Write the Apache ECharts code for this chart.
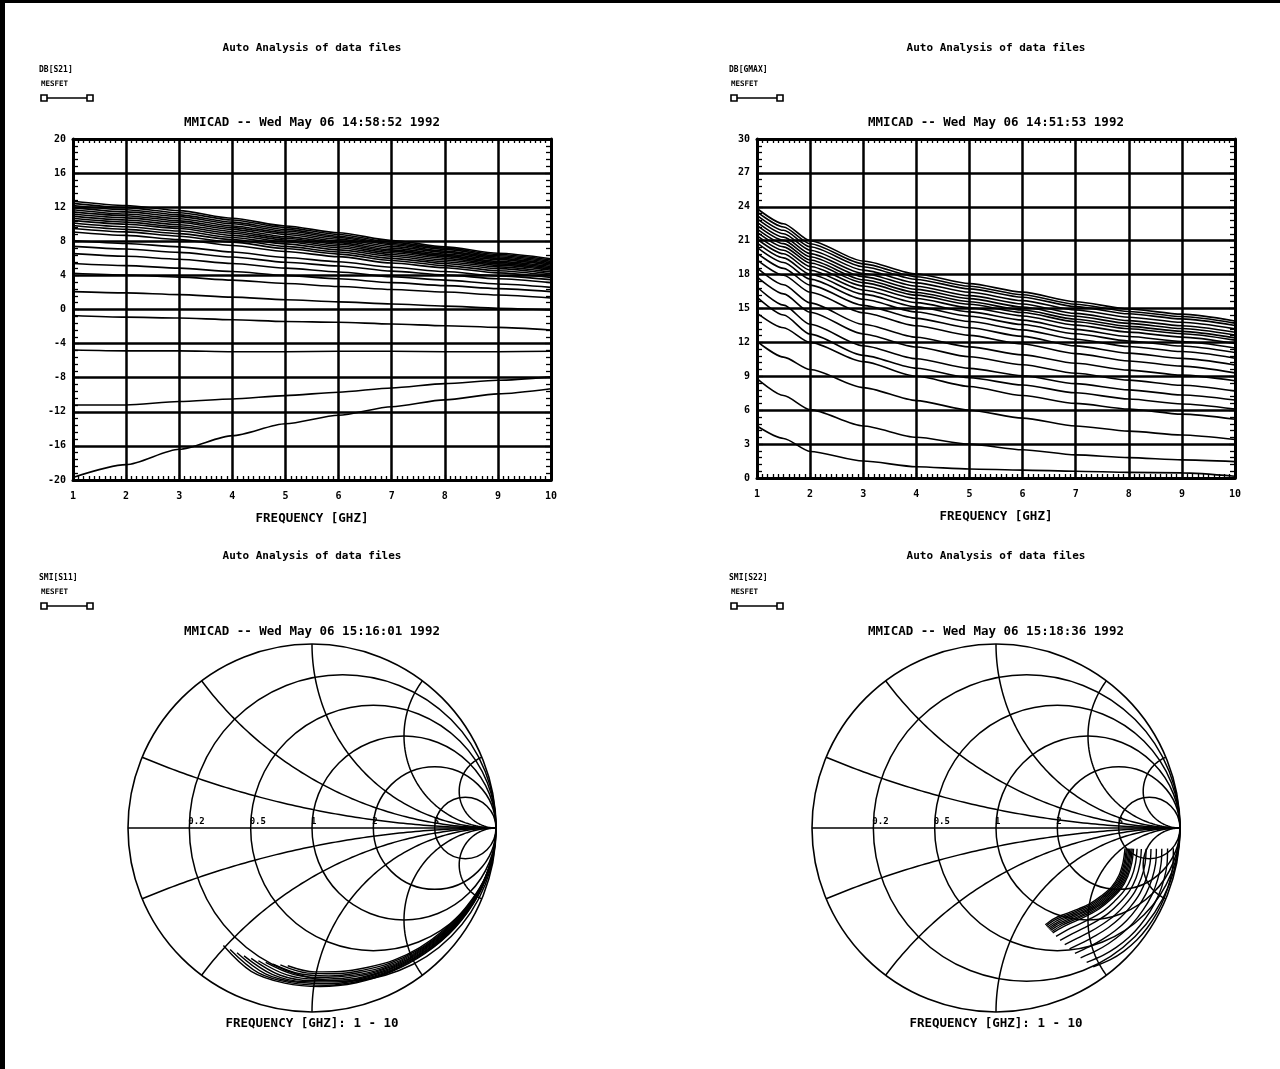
<!DOCTYPE html>
<html>
<head>
<meta charset="utf-8">
<title>MMICAD Auto Analysis</title>
<script src="https://cdn.jsdelivr.net/npm/echarts@6.0.0/dist/echarts.min.js"></script>
<style>
html,body{margin:0;padding:0;background:#ffffff;}
#chart{width:1280px;height:1069px;}
</style>
</head>
<body>
<div id="chart"></div>
<script>
// ---------------- data ----------------
const freqTicks = [1,2,3,4,5,6,7,8,9,10];
const s21Ticks  = [-20,-16,-12,-8,-4,0,4,8,12,16,20];
const gmaxTicks = [0,3,6,9,12,15,18,21,24,27,30];

const freqS21 = [1,2,3,4,5,6,7,8,9,10];
const s21Curves = [
  [12.7,12.2,11.6,10.7,9.8,9.0,8.1,7.35,6.6,5.95],
  [12.45,11.95,11.35,10.5,9.6,8.8,7.9,7.2,6.45,5.8],
  [12.2,11.7,11.1,10.25,9.4,8.6,7.75,7.05,6.3,5.65],
  [11.95,11.45,10.9,10.05,9.2,8.45,7.6,6.85,6.15,5.5],
  [11.7,11.2,10.65,9.8,9.0,8.25,7.4,6.7,6.0,5.35],
  [11.45,11.0,10.4,9.6,8.8,8.05,7.2,6.5,5.85,5.2],
  [11.2,10.75,10.2,9.4,8.55,7.85,7.0,6.35,5.65,5.05],
  [10.95,10.5,9.95,9.15,8.35,7.65,6.85,6.2,5.5,4.9],
  [10.7,10.25,9.7,8.95,8.15,7.45,6.65,6.0,5.35,4.75],
  [10.45,10.0,9.5,8.7,7.95,7.25,6.45,5.8,5.2,4.6],
  [10.15,9.7,9.2,8.45,7.7,7.0,6.25,5.6,5.0,4.4],
  [9.85,9.4,8.9,8.2,7.4,6.75,6.0,5.4,4.8,4.2],
  [9.5,9.1,8.6,7.9,7.15,6.5,5.75,5.15,4.55,4.0],
  [9.1,8.7,8.2,7.5,6.8,6.2,5.45,4.9,4.3,3.75],
  [8.1,7.75,7.35,6.75,6.1,5.6,4.95,4.45,3.95,3.5],
  [7.4,7.1,6.7,6.15,5.55,5.1,4.5,4.05,3.6,3.15],
  [6.55,6.25,5.9,5.4,4.85,4.4,3.85,3.45,3.0,2.6],
  [5.4,5.15,4.85,4.45,4.0,3.6,3.15,2.8,2.45,2.1],
  [4.25,4.05,3.8,3.45,3.05,2.7,2.35,2.05,1.7,1.35],
  [2.1,1.95,1.75,1.45,1.15,0.9,0.65,0.4,0.15,-0.05],
  [-0.7,-0.9,-1.0,-1.2,-1.4,-1.5,-1.7,-1.9,-2.1,-2.4],
  [-4.75,-4.85,-4.85,-4.95,-4.95,-4.9,-4.9,-4.95,-4.95,-4.9],
  [-11.2,-11.2,-10.8,-10.5,-10.1,-9.7,-9.2,-8.7,-8.3,-7.9],
  [-19.7,-18.2,-16.4,-14.8,-13.4,-12.4,-11.4,-10.6,-9.9,-9.3]
];

const freqGmax = [1,1.5,2,3,4,5,6,7,8,9,10];
const gmaxCurves = [
  [23.85,22.5,21.0,19.2,18.05,17.2,16.45,15.6,14.95,14.5,13.9],
  [23.55,22.21,20.73,18.95,17.81,16.97,16.22,15.38,14.74,14.29,13.7],
  [23.25,21.92,20.46,18.7,17.57,16.74,16.0,15.17,14.53,14.08,13.5],
  [22.95,21.62,20.16,18.4,17.27,16.44,15.7,14.87,14.23,13.78,13.2],
  [22.65,21.32,19.86,18.1,16.97,16.14,15.4,14.57,13.93,13.48,12.9],
  [22.35,21.03,19.58,17.82,16.69,15.87,15.13,14.31,13.68,13.23,12.65],
  [22.05,20.74,19.29,17.54,16.42,15.6,14.87,14.05,13.42,12.98,12.4],
  [21.75,20.45,19.02,17.29,16.18,15.37,14.64,13.83,13.21,12.77,12.2],
  [21.45,20.15,18.72,16.99,15.88,15.07,14.34,13.53,12.91,12.47,11.9],
  [21.15,19.84,18.39,16.64,15.52,14.7,13.97,13.15,12.52,12.08,11.5],
  [20.8,19.48,18.03,16.27,15.14,14.32,13.58,12.76,12.13,11.68,11.1],
  [20.4,19.07,17.6,15.82,14.69,13.85,13.11,12.28,11.64,11.19,10.6],
  [19.9,18.55,17.07,15.28,14.13,13.29,12.53,11.69,11.05,10.59,10.0],
  [19.3,17.94,16.44,14.63,13.47,12.62,11.86,11.01,10.36,9.9,9.3],
  [18.6,17.1,15.5,13.6,12.45,11.6,10.9,10.15,9.55,9.1,8.6],
  [17.8,16.29,14.67,12.75,11.59,10.73,10.02,9.27,8.66,8.21,7.7],
  [16.9,15.3,13.6,11.7,10.55,9.7,9.05,8.35,7.8,7.35,6.9],
  [16.0,14.42,12.73,10.85,9.71,8.87,8.23,7.54,6.99,6.55,6.1],
  [14.6,13.3,12.0,10.3,9.0,8.1,7.3,6.6,6.1,5.65,5.2],
  [12.1,10.7,9.6,8.0,6.85,6.0,5.3,4.6,4.15,3.8,3.4],
  [8.8,7.3,6.05,4.6,3.6,3.0,2.5,2.05,1.8,1.6,1.45],
  [4.6,3.5,2.35,1.5,1.0,0.8,0.7,0.6,0.5,0.45,0.15]
];

// Smith chart data: magnitude and angle (deg) at 1..10 GHz
const s11Mag = [
  [0.995,0.975,0.948,0.918,0.893,0.875,0.863,0.856,0.846,0.800],
  [0.995,0.975,0.947,0.917,0.891,0.872,0.858,0.849,0.839,0.796],
  [0.995,0.975,0.946,0.915,0.889,0.868,0.852,0.842,0.832,0.791],
  [0.995,0.975,0.945,0.914,0.887,0.865,0.847,0.836,0.825,0.787],
  [0.995,0.975,0.944,0.912,0.885,0.862,0.842,0.829,0.818,0.782],
  [0.995,0.975,0.944,0.911,0.883,0.858,0.836,0.822,0.810,0.778],
  [0.995,0.975,0.943,0.909,0.881,0.855,0.831,0.815,0.803,0.773],
  [0.995,0.975,0.942,0.908,0.879,0.852,0.826,0.809,0.796,0.769],
  [0.995,0.975,0.941,0.906,0.877,0.848,0.820,0.802,0.789,0.764],
  [0.995,0.975,0.940,0.905,0.875,0.845,0.815,0.795,0.782,0.760]
];
const s11Ang = [
  [-10,-22,-35,-48,-61,-74,-87,-100,-113,-127],
  [-9.8,-21.5,-34.2,-46.8,-59.5,-72.2,-84.9,-97.6,-110.3,-124],
  [-9.5,-21,-33.4,-45.7,-58.1,-70.5,-82.9,-95.3,-107.7,-121],
  [-9.3,-20.4,-32.5,-44.6,-56.7,-68.7,-80.8,-92.9,-105,-118],
  [-9.1,-19.9,-31.7,-43.5,-55.3,-67,-78.8,-90.6,-102.4,-115],
  [-8.8,-19.4,-30.9,-42.3,-53.8,-65.3,-76.7,-88.2,-99.7,-112],
  [-8.6,-18.9,-30,-41.2,-52.3,-63.5,-74.6,-85.8,-97,-109],
  [-8.4,-18.4,-29.2,-40.1,-50.9,-61.8,-72.6,-83.5,-94.3,-106],
  [-8.1,-17.8,-28.4,-38.9,-49.5,-60,-70.6,-81.1,-91.6,-103],
  [-7.9,-17.3,-27.5,-37.8,-48,-58.2,-68.5,-78.7,-88.9,-100]
];
const s22Mag = [
  [0.710,0.715,0.716,0.705,0.680,0.655,0.625,0.600,0.585,0.590],
  [0.717,0.722,0.723,0.712,0.688,0.663,0.634,0.609,0.594,0.598],
  [0.723,0.728,0.730,0.719,0.695,0.672,0.643,0.618,0.603,0.607],
  [0.730,0.735,0.736,0.726,0.703,0.680,0.652,0.627,0.612,0.615],
  [0.736,0.742,0.743,0.734,0.711,0.688,0.660,0.637,0.621,0.623],
  [0.743,0.748,0.750,0.741,0.719,0.696,0.669,0.646,0.630,0.631],
  [0.749,0.755,0.757,0.748,0.726,0.705,0.678,0.655,0.639,0.640],
  [0.756,0.762,0.763,0.755,0.734,0.713,0.687,0.664,0.649,0.648],
  [0.775,0.782,0.784,0.776,0.757,0.738,0.713,0.691,0.676,0.673],
  [0.798,0.806,0.808,0.802,0.785,0.767,0.745,0.724,0.708,0.703],
  [0.824,0.833,0.835,0.830,0.816,0.800,0.780,0.761,0.745,0.736],
  [0.850,0.859,0.862,0.859,0.847,0.833,0.816,0.797,0.781,0.769],
  [0.879,0.889,0.892,0.890,0.881,0.870,0.855,0.837,0.821,0.805],
  [0.908,0.918,0.922,0.922,0.915,0.906,0.893,0.877,0.861,0.842],
  [0.939,0.950,0.955,0.956,0.952,0.945,0.936,0.921,0.904,0.881],
  [0.970,0.982,0.987,0.990,0.989,0.985,0.978,0.965,0.948,0.921]
];
const s22Ang = [
  [-9,-15,-21,-27,-33,-39,-45,-51,-57,-63],
  [-8.9,-14.9,-20.9,-26.9,-32.9,-38.9,-44.8,-50.8,-56.8,-62.8],
  [-8.9,-14.8,-20.8,-26.8,-32.8,-38.7,-44.7,-50.7,-56.6,-62.6],
  [-8.8,-14.7,-20.7,-26.6,-32.6,-38.6,-44.5,-50.5,-56.4,-62.4],
  [-8.8,-14.7,-20.6,-26.5,-32.5,-38.5,-44.4,-50.3,-56.2,-62.2],
  [-8.7,-14.6,-20.5,-26.4,-32.4,-38.3,-44.2,-50.1,-56,-62],
  [-8.6,-14.5,-20.3,-26.3,-32.3,-38.2,-44.0,-49.9,-55.8,-61.8],
  [-8.6,-14.4,-20.2,-26.1,-32.1,-38.0,-43.9,-49.8,-55.6,-61.6],
  [-8.4,-14.1,-19.9,-25.8,-31.8,-37.6,-43.4,-49.3,-55,-61],
  [-8.2,-13.8,-19.5,-25.3,-31.3,-37.1,-42.8,-48.6,-54.3,-60.3],
  [-7.9,-13.5,-19.1,-24.8,-30.8,-36.6,-42.1,-47.9,-53.5,-59.5],
  [-7.7,-13.1,-18.6,-24.3,-30.3,-36.0,-41.5,-47.2,-52.7,-58.7],
  [-7.4,-12.7,-18.1,-23.8,-29.8,-35.4,-40.8,-46.5,-51.8,-57.8],
  [-7.1,-12.3,-17.7,-23.2,-29.2,-34.8,-40.1,-45.7,-50.9,-56.9],
  [-6.8,-11.9,-17.1,-22.6,-28.6,-34.2,-39.3,-44.8,-50,-56],
  [-6.5,-11.5,-16.6,-22,-28,-33.5,-38.5,-44,-49,-55]
];

const smithR = [0.2,0.5,1,2,5];
const smithX = [0.2,0.5,1,2,5];
const smithLabels = ['0.2','0.5','1','2','5'];

const pageTitle = 'Auto Analysis of data files';
const plotLabels = ['DB[S21]','DB[GMAX]','SMI[S11]','SMI[S22]'];
const deviceName = 'MESFET';
const stampTitles = [
  'MMICAD -- Wed May 06 14:58:52 1992',
  'MMICAD -- Wed May 06 14:51:53 1992',
  'MMICAD -- Wed May 06 15:16:01 1992',
  'MMICAD -- Wed May 06 15:18:36 1992'
];
const freqAxisName = 'FREQUENCY [GHZ]';
const smithFreqNote = 'FREQUENCY [GHZ]: 1 - 10';

// ---------------- chart ----------------
const FONT = '"DejaVu Sans Mono", "Liberation Mono", monospace';
const BLACK = '#000000';
const chart = echarts.init(document.getElementById('chart'), null, {renderer: 'canvas'});

function xAx(gi, pos, main) {
  return {
    gridIndex: gi, type: 'value', position: pos,
    min: freqTicks[0], max: freqTicks[freqTicks.length - 1], interval: freqTicks[1] - freqTicks[0],
    axisLine: {show: true, onZero: false, lineStyle: {color: BLACK, width: 3}},
    axisTick: {show: true, inside: true, length: 5, lineStyle: {color: BLACK, width: 1.3}},
    minorTick: {show: true, splitNumber: 10, length: 4, lineStyle: {color: BLACK, width: 1.3}},
    splitLine: {show: main, lineStyle: {color: BLACK, width: 2.5}},
    axisLabel: {show: main, margin: 11, fontSize: 10, fontWeight: 'bold', fontFamily: FONT, color: BLACK},
    name: main ? freqAxisName : '', nameLocation: 'middle', nameGap: 32,
    nameTextStyle: {fontSize: 12.5, fontWeight: 'bold', fontFamily: FONT, color: BLACK}
  };
}
function yAx(gi, pos, main, ticks) {
  return {
    gridIndex: gi, type: 'value', position: pos,
    min: ticks[0], max: ticks[ticks.length - 1], interval: ticks[1] - ticks[0],
    axisLine: {show: true, onZero: false, lineStyle: {color: BLACK, width: 3}},
    axisTick: {show: true, inside: true, length: 6, lineStyle: {color: BLACK, width: 1.3}},
    minorTick: {show: true, splitNumber: 5, length: 5, lineStyle: {color: BLACK, width: 1.3}},
    splitLine: {show: main, lineStyle: {color: BLACK, width: 2.5}},
    axisLabel: {show: main, margin: 7, fontSize: 10, fontWeight: 'bold', fontFamily: FONT, color: BLACK}
  };
}

const series = [];
s21Curves.forEach(c => series.push({
  type: 'line', xAxisIndex: 0, yAxisIndex: 0, data: freqS21.map((f, i) => [f, c[i]]),
  symbol: 'none', smooth: 0.25, smoothMonotone: 'x', silent: true,
  lineStyle: {color: BLACK, width: 1.6}
}));
gmaxCurves.forEach(c => series.push({
  type: 'line', xAxisIndex: 2, yAxisIndex: 2, data: freqGmax.map((f, i) => [f, c[i]]),
  symbol: 'none', smooth: 0.25, smoothMonotone: 'x', silent: true,
  lineStyle: {color: BLACK, width: 1.6}
}));
const s11First = series.length;
s11Mag.forEach((m, k) => series.push({
  type: 'line', coordinateSystem: 'polar', polarIndex: 0,
  data: m.map((v, i) => [v, s11Ang[k][i]]),
  symbol: 'none', smooth: 0.35, silent: true, lineStyle: {color: BLACK, width: 1.4}
}));
const s22First = series.length;
s22Mag.forEach((m, k) => series.push({
  type: 'line', coordinateSystem: 'polar', polarIndex: 1,
  data: m.map((v, i) => [v, s22Ang[k][i]]),
  symbol: 'none', smooth: 0.35, silent: true, lineStyle: {color: BLACK, width: 1.4}
}));

function angleAx(pi) {
  return {
    polarIndex: pi, type: 'value', min: -180, max: 180, startAngle: 180, clockwise: false,
    axisLine: {show: true, lineStyle: {color: BLACK, width: 1.6}},
    axisTick: {show: false}, axisLabel: {show: false}, splitLine: {show: false}, splitArea: {show: false}
  };
}
function radiusAx(pi) {
  return {
    polarIndex: pi, type: 'value', min: 0, max: 1,
    axisLine: {show: false}, axisTick: {show: false}, axisLabel: {show: false}, splitLine: {show: false}
  };
}

chart.setOption({
  animation: false,
  backgroundColor: '#ffffff',
  textStyle: {fontFamily: FONT},
  grid: [
    {left: 73, top: 139, width: 478, height: 341, show: false, containLabel: false, outerBoundsMode: 'none'},
    {left: 757, top: 139, width: 478, height: 339, show: false, containLabel: false, outerBoundsMode: 'none'}
  ],
  xAxis: [xAx(0, 'bottom', true), xAx(0, 'top', false), xAx(1, 'bottom', true), xAx(1, 'top', false)],
  yAxis: [yAx(0, 'left', true, s21Ticks), yAx(0, 'right', false, s21Ticks),
          yAx(1, 'left', true, gmaxTicks), yAx(1, 'right', false, gmaxTicks)],
  polar: [{center: [312, 828], radius: 184}, {center: [996, 828], radius: 184}],
  angleAxis: [angleAx(0), angleAx(1)],
  radiusAxis: [radiusAx(0), radiusAx(1)],
  series: series
});

// ---------------- decorations ----------------
const GRID_W = 1.5;
function txt(text, x, y, size, align, valign) {
  return {type: 'text', x: x, y: y, silent: true, z: 10,
    style: {text: text, fontSize: size, fontWeight: 'bold', fontFamily: FONT, fill: BLACK,
      textAlign: align || 'center', textVerticalAlign: valign || 'middle'}};
}
function legendMark(x1, x2, y) {
  return [
    {type: 'line', silent: true, shape: {x1: x1, y1: y, x2: x2, y2: y}, style: {stroke: BLACK, lineWidth: 1.6}},
    {type: 'rect', silent: true, shape: {x: x1 - 3, y: y - 3, width: 6, height: 6}, style: {fill: '#fff', stroke: BLACK, lineWidth: 1.6}},
    {type: 'rect', silent: true, shape: {x: x2 - 3, y: y - 3, width: 6, height: 6}, style: {fill: '#fff', stroke: BLACK, lineWidth: 1.6}}
  ];
}
function smithGrid(sidx) {
  const c = chart.convertToPixel({seriesIndex: sidx}, [0, 0]);
  const e = chart.convertToPixel({seriesIndex: sidx}, [1, 0]);
  const s = Math.hypot(e[0] - c[0], e[1] - c[1]);
  const P = (gx, gy) => [c[0] + s * gx, c[1] - s * gy];
  const els = [];
  const st = {fill: 'none', stroke: BLACK, lineWidth: GRID_W};
  els.push({type: 'line', silent: true, shape: {x1: c[0] - s, y1: c[1], x2: c[0] + s, y2: c[1]}, style: st});
  smithR.forEach(r => {
    const cc = P(r / (r + 1), 0);
    els.push({type: 'circle', silent: true, shape: {cx: cc[0], cy: cc[1], r: s / (r + 1)}, style: st});
  });
  smithX.forEach(x => {
    let ts = Math.atan2((x * x - 1) / x, -2) * 180 / Math.PI;
    if (ts > -90) ts -= 360;
    [1, -1].forEach(sg => {
      const pts = [];
      const N = 90;
      for (let i = 0; i <= N; i++) {
        const th = (ts + (-90 - ts) * i / N) * Math.PI / 180;
        pts.push(P(1 + Math.cos(th) / x, sg * (1 / x + Math.sin(th) / x)));
      }
      els.push({type: 'polyline', silent: true, shape: {points: pts}, style: st});
    });
  });
  smithR.forEach((r, i) => {
    const p = P((r - 1) / (r + 1), 0);
    els.push(txt(smithLabels[i], p[0] - 1, p[1] - 2, 9, 'left', 'bottom'));
  });
  return els;
}

const colX = [312, 996];
const labX = [39, 729];
let els = [
  {type: 'rect', silent: true, shape: {x: 0, y: 0, width: 5, height: 1069}, style: {fill: BLACK}},
  {type: 'rect', silent: true, shape: {x: 0, y: 0, width: 1280, height: 3}, style: {fill: BLACK}}
];
[0, 1].forEach(row => {
  const dy = row * 508;
  [0, 1].forEach(col => {
    const idx = row * 2 + col;
    els.push(txt(pageTitle, colX[col], 48 + dy, 11));
    els.push(txt(plotLabels[idx], labX[col], 70 + dy, 8, 'left'));
    els.push(txt(deviceName, labX[col] + 2, 84 + dy, 7.5, 'left'));
    els = els.concat(legendMark(labX[col] + 5, labX[col] + 51, 98 + dy));
  });
});
els.push(txt(stampTitles[0], colX[0], 123, 12.5));
els.push(txt(stampTitles[1], colX[1], 123, 12.5));
els.push(txt(stampTitles[2], colX[0], 632, 12.5));
els.push(txt(stampTitles[3], colX[1], 632, 12.5));
els.push(txt(smithFreqNote, colX[0], 1024, 12.5));
els.push(txt(smithFreqNote, colX[1], 1024, 12.5));
els = els.concat(smithGrid(s11First), smithGrid(s22First));

chart.setOption({graphic: {elements: els}});
</script>
</body>
</html>
